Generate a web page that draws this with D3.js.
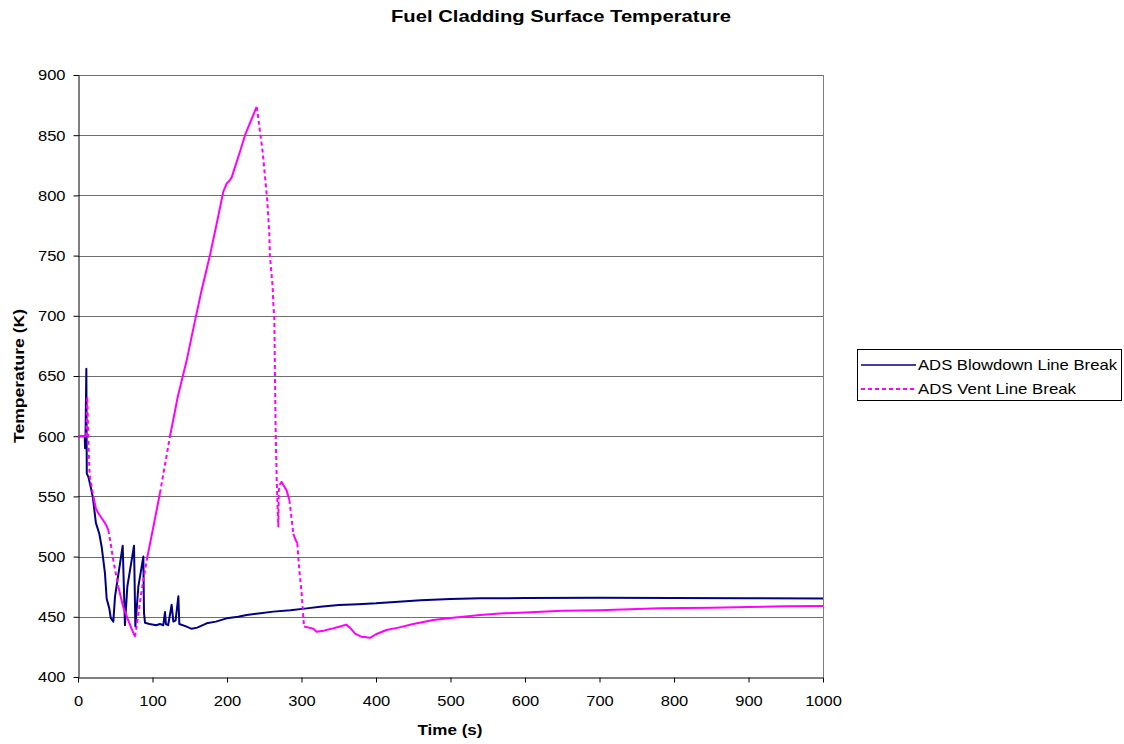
<!DOCTYPE html>
<html><head><meta charset="utf-8">
<script src="https://cdn.jsdelivr.net/npm/d3@7"></script>
<style>
body{margin:0;background:#fff;}
text{font-family:Arial,"Liberation Sans",sans-serif;fill:#000;}
</style>
</head><body>
<svg id="c" width="1124" height="744"></svg>
<script>
const chartTitle = "Fuel Cladding Surface Temperature";
const xTitle = "Time (s)";
const yTitle = "Temperature (K)";
const seriesNames = ["ADS Blowdown Line Break", "ADS Vent Line Break"];
const seriesColors = ["#000080", "#FF00FF"];
const xTicks = [0,100,200,300,400,500,600,700,800,900,1000];
const yTicks = [400,450,500,550,600,650,700,750,800,850,900];

// ADS Blowdown Line Break: [time (s), temperature (K)]
const blowdownData = [
[0,600],[9,600],[9.5,590],[10,595],[11.2,656],[11.8,569],[14,566],[17,558],[20,549],
[24,528],[28.6,519],[31.8,508],[36.2,486],[38.5,465],[42,457],[44,449],[47.4,446],
[49.7,467],[60,509],[63,443],[66.2,475],[75.2,509],[77,442],[81,475],[87.7,500],
[88.6,453],[90,445],[96,444],[105,443],[110,444],[114.5,443],[116.8,454],[118,444],
[121,443],[125.7,460],[128,446],[131,447],[134.7,467],[136,444],[145,442],[152.6,440],
[160,441],[172.7,444.6],[185,446],[199.6,448.7],[215,450],[226.4,451.5],[245,453],
[262,454.3],[285,455.5],[307,457],[325,458.4],[350,459.8],[376,460.5],[400,461.2],
[430,462.5],[460,463.8],[500,464.8],[540,465.4],[566,465.4],[600,465.6],[700,465.8],
[800,465.6],[900,465.4],[1000,465.3]
];

// ADS Vent Line Break: [time (s), temperature (K)]
const ventData = [
[0,600],[11,600],[12.5,633],[13.5,605],[14.5,585],[15.5,570],[16.1,566],[20.6,550],
[24,540],[27.3,536],[34,530],[38,526],[40.7,522],[43,514],[47.4,497],[54.1,475],
[60.8,458],[67.5,447],[72,440],[76.5,433.5],[78.7,442],[85,470],[92.2,497],[100,521],
[110,552.6],[123.5,600],[134,633],[145.9,663],[155,690],[166,721.4],[177.2,750.5],
[186,776],[195,803],[199.6,810],[203,812],[206.3,815],[212,826],[217.4,836.3],
[224.2,850],[232,862],[239.8,873.5],[242,864],[247.9,836],[254,796],[256.8,768.5],
[257.7,749],[261.3,724],[262.2,710],[263.5,698],[264.4,649],[265.4,602],[266.7,564],
[268.9,525],[269.5,555],[271,560],[273.4,562],[276,559],[280,555],[283.7,547],
[287,530],[289,519],[292,514],[294.4,511],[296,497],[298,483],[300.2,469.5],
[302.4,450],[303.4,442],[310,441],[316,440],[320.4,437.6],[330,438.5],[340,440],
[351.7,442],[360,443.5],[365,441],[372,436],[380,433.5],[387.5,433],[392,432.5],
[400,435.5],[414,439],[430,441],[450,444],[477,447.3],[500,449],[540,451.4],
[566,452.8],[600,453.5],[650,455],[700,455.5],[781,457],[850,457.5],[900,458.2],
[950,458.7],[1000,459]
];

const svg = d3.select("#c");
const m = {left:78, top:75, right:823, bottom:677};
const x = d3.scaleLinear().domain([0,1000]).range([m.left, m.right]);
const y = d3.scaleLinear().domain([400,900]).range([m.bottom, m.top]);
const FONT = "Arial, 'Liberation Sans', sans-serif";
const WIDEN = 1.1; // reference text is rendered slightly wider than Arial

svg.append("rect").attr("width",1124).attr("height",744).attr("fill","#fff");

// gridlines
svg.append("g").selectAll("line").data(yTicks.filter(v=>v>400)).join("line")
  .attr("x1",m.left).attr("x2",m.right)
  .attr("y1",d=>Math.round(y(d))+0.5).attr("y2",d=>Math.round(y(d))+0.5)
  .attr("stroke","#6e6e6e").attr("stroke-width",1);
// right border
svg.append("line").attr("x1",m.right+0.5).attr("x2",m.right+0.5)
  .attr("y1",m.top).attr("y2",m.bottom).attr("stroke","#808080").attr("stroke-width",1);

// axes
const xAxis = d3.axisBottom(x).tickValues(xTicks).tickFormat(d3.format("d")).tickSize(5).tickSizeOuter(0).tickPadding(5);
const yAxis = d3.axisLeft(y).tickValues(yTicks).tickFormat(d3.format("d")).tickSize(5).tickSizeOuter(0).tickPadding(8);
const gx = svg.append("g").attr("transform",`translate(0,${Math.round(m.bottom)+0.5})`).call(xAxis);
const gy = svg.append("g").attr("transform",`translate(${m.left+0.5},0)`).call(yAxis);
[gx,gy].forEach(g=>{
  g.selectAll("path,line").attr("stroke","#000");
  g.selectAll("text").attr("font-size","15px").attr("font-family",FONT).attr("fill","#000");
});
gx.selectAll("text").attr("dy","1.2em");

// widen text horizontally to match reference rendering
function widen(sel, f){
  sel.each(function(){
    const w = this.getComputedTextLength();
    d3.select(this).attr("textLength", w*f).attr("lengthAdjust","spacingAndGlyphs");
  });
}
widen(gx.selectAll("text"), WIDEN);
widen(gy.selectAll("text"), WIDEN);

// series drawing: steep segments are rendered dashed, flat ones solid
function drawSeries(data, color, dashed){
  const pts = data.map(d=>[x(d[0]), y(d[1])]);
  const line = d3.line();
  if(!dashed){
    svg.append("path").attr("d",line(pts)).attr("fill","none")
      .attr("stroke",color).attr("stroke-width",2).attr("stroke-linejoin","round");
    return;
  }
  let runs = [], cur = null;
  for(let i=0;i<pts.length-1;i++){
    const a=pts[i], b=pts[i+1];
    const dx=Math.abs(b[0]-a[0]), dy=Math.abs(b[1]-a[1]);
    const steep = dy > 5.3*Math.max(dx,1e-6);
    if(!cur || cur.steep!==steep){ cur={steep, pts:[a]}; runs.push(cur); }
    cur.pts.push(b);
  }
  runs.forEach(r=>{
    svg.append("path").attr("d",line(r.pts)).attr("fill","none")
      .attr("stroke",color).attr("stroke-width",2)
      .attr("stroke-dasharray", r.steep ? "4,3" : null)
      .attr("stroke-linejoin","round");
  });
}
drawSeries(blowdownData, seriesColors[0], false);
drawSeries(ventData, seriesColors[1], true);

// titles
const t1 = svg.append("text").attr("x",561).attr("y",22).attr("text-anchor","middle")
  .attr("font-size","17px").attr("font-weight","bold").text(chartTitle);
widen(t1, 340/ (t1.node().getComputedTextLength()));
const t2 = svg.append("text").attr("x",450).attr("y",735).attr("text-anchor","middle")
  .attr("font-size","15px").attr("font-weight","bold").text(xTitle);
widen(t2, 65/(t2.node().getComputedTextLength()));
const t3 = svg.append("text").attr("transform",`translate(24,${(m.top+m.bottom)/2}) rotate(-90)`)
  .attr("text-anchor","middle").attr("font-size","15px").attr("font-weight","bold").text(yTitle);
widen(t3, 134/(t3.node().getComputedTextLength()));

// legend
const lg = svg.append("g");
lg.append("rect").attr("x",857.5).attr("y",349.5).attr("width",264).attr("height",51)
  .attr("fill","#fff").attr("stroke","#000").attr("stroke-width",1);
const legendWidths = [199, 158];
seriesNames.forEach((n,i)=>{
  const yy = 365 + i*24;
  lg.append("line").attr("x1",861).attr("x2",916).attr("y1",yy).attr("y2",yy)
    .attr("stroke",seriesColors[i]).attr("stroke-width",i===0?1.5:2)
    .attr("stroke-dasharray", i===1 ? "4,3" : null);
  const tx = lg.append("text").attr("x",918).attr("y",yy+5).attr("font-size","15px").text(n);
  widen(tx, legendWidths[i]/tx.node().getComputedTextLength());
});
</script>
</body></html>
